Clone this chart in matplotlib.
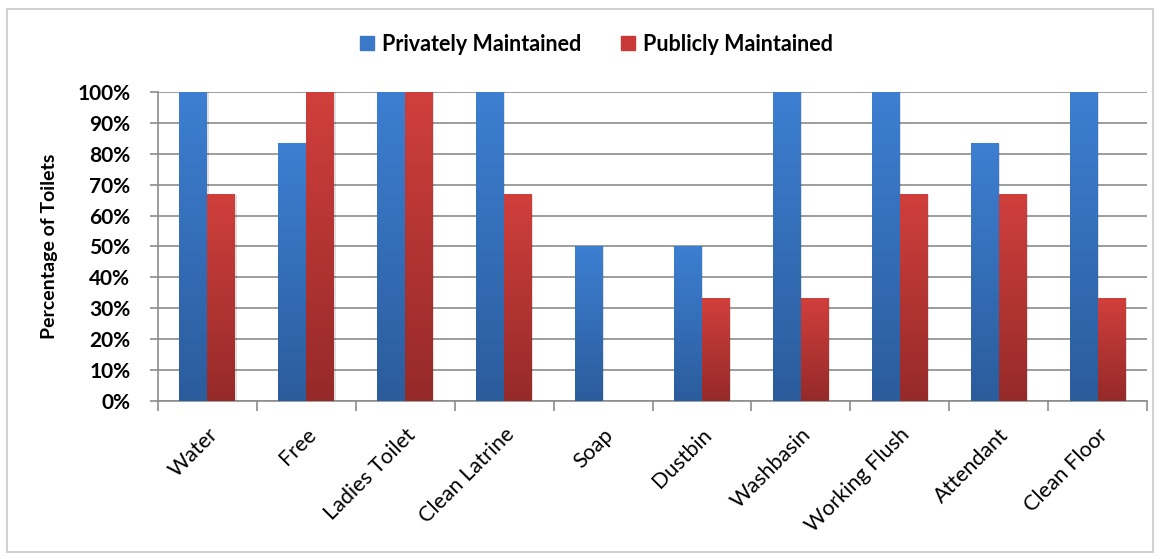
import matplotlib.pyplot as plt
import numpy as np
from matplotlib.colors import LinearSegmentedColormap
from matplotlib.patches import Rectangle
from matplotlib.lines import Line2D
import matplotlib.transforms as mtransforms

plt.rcParams['font.family'] = ['Lato', 'DejaVu Sans']

categories = ['Water', 'Free', 'Ladies Toilet', 'Clean Latrine', 'Soap', 'Dustbin',
              'Washbasin', 'Working Flush', 'Attendant', 'Clean Floor']
private = [100, 83.3, 100, 100, 50, 50, 100, 100, 83.3, 100]
public = [66.7, 100, 100, 66.7, 0, 33.3, 33.3, 66.7, 66.7, 33.3]
yticks = [0, 10, 20, 30, 40, 50, 60, 70, 80, 90, 100]

fig = plt.figure(figsize=(11.61, 5.59), dpi=100)
ax = fig.add_axes([0.1361, 0.2827, 0.8519, 0.5527])

# thin grey frame round the whole chart
fig.patches.append(Rectangle((0.006, 0.013), 0.987, 0.971, transform=fig.transFigure,
                             fill=False, edgecolor='#c8c8c8', linewidth=1.2))

blue_cmap = LinearSegmentedColormap.from_list('b', ['#2b5c9c', '#3d7fd2'])
red_cmap = LinearSegmentedColormap.from_list('r', ['#952a29', '#d03f3c'])

x = np.arange(len(categories))
w = 0.283
bars1 = ax.bar(x - w / 2, private, w, color='none', zorder=3)
bars2 = ax.bar(x + w / 2, public, w, color='none', zorder=3)

grad = np.linspace(0, 1, 256).reshape(-1, 1)
for bars, cmap in [(bars1, blue_cmap), (bars2, red_cmap)]:
    for b in bars:
        h = b.get_height()
        if h <= 0:
            continue
        x0 = b.get_x()
        # soft shadow at the right edge
        ax.add_patch(Rectangle((x0 + 0.012, 0), b.get_width(), h, color='#000000',
                               alpha=0.12, zorder=2.5, linewidth=0))
        ax.imshow(grad, cmap=cmap, origin='lower', aspect='auto',
                  extent=(x0, x0 + b.get_width(), 0, h), zorder=3)

ax.set_xlim(-0.5, len(categories) - 0.5)
ax.set_ylim(0, 100)

ax.set_yticks(yticks)
ax.set_yticklabels([f'{v}%' for v in yticks], fontsize=15, fontweight='bold')
ax.yaxis.grid(True, color='#8c8c8c', linewidth=1.2, zorder=0)
ax.set_axisbelow(True)

ax.set_xticks(x)
ax.set_xticklabels(categories, rotation=45, ha='right', rotation_mode='anchor', fontsize=15.5)
shift = mtransforms.ScaledTranslation(8 / 100, 0, fig.dpi_scale_trans)
for lbl in ax.get_xticklabels():
    lbl.set_transform(lbl.get_transform() + shift)
ax.tick_params(axis='x', length=0, pad=17)
ax.set_xticks(np.arange(-0.5, len(categories)), minor=True)
ax.tick_params(axis='x', which='minor', length=7, color='#8c8c8c', width=1.2)
ax.tick_params(axis='y', length=6, color='#8c8c8c', width=1.2, pad=14)

for s in ['top', 'right']:
    ax.spines[s].set_visible(False)
for s in ['left', 'bottom']:
    ax.spines[s].set_color('#8c8c8c')
    ax.spines[s].set_linewidth(1.2)

ax.set_ylabel('Percentage of Toilets', fontsize=14, fontweight='bold', labelpad=14)

handles = [Line2D([], [], marker='s', linestyle='none', markersize=10, color='#3a78c8'),
           Line2D([], [], marker='s', linestyle='none', markersize=10, color='#c83a38')]
fig.legend(handles, ['Privately Maintained', 'Publicly Maintained'], loc='center',
           bbox_to_anchor=(0.513, 0.921), ncol=2, frameon=False, columnspacing=1.8,
           handlelength=0.8, handletextpad=0.3, prop={'size': 15.5, 'weight': 'bold'})

fig.savefig('out.png', dpi=100)
